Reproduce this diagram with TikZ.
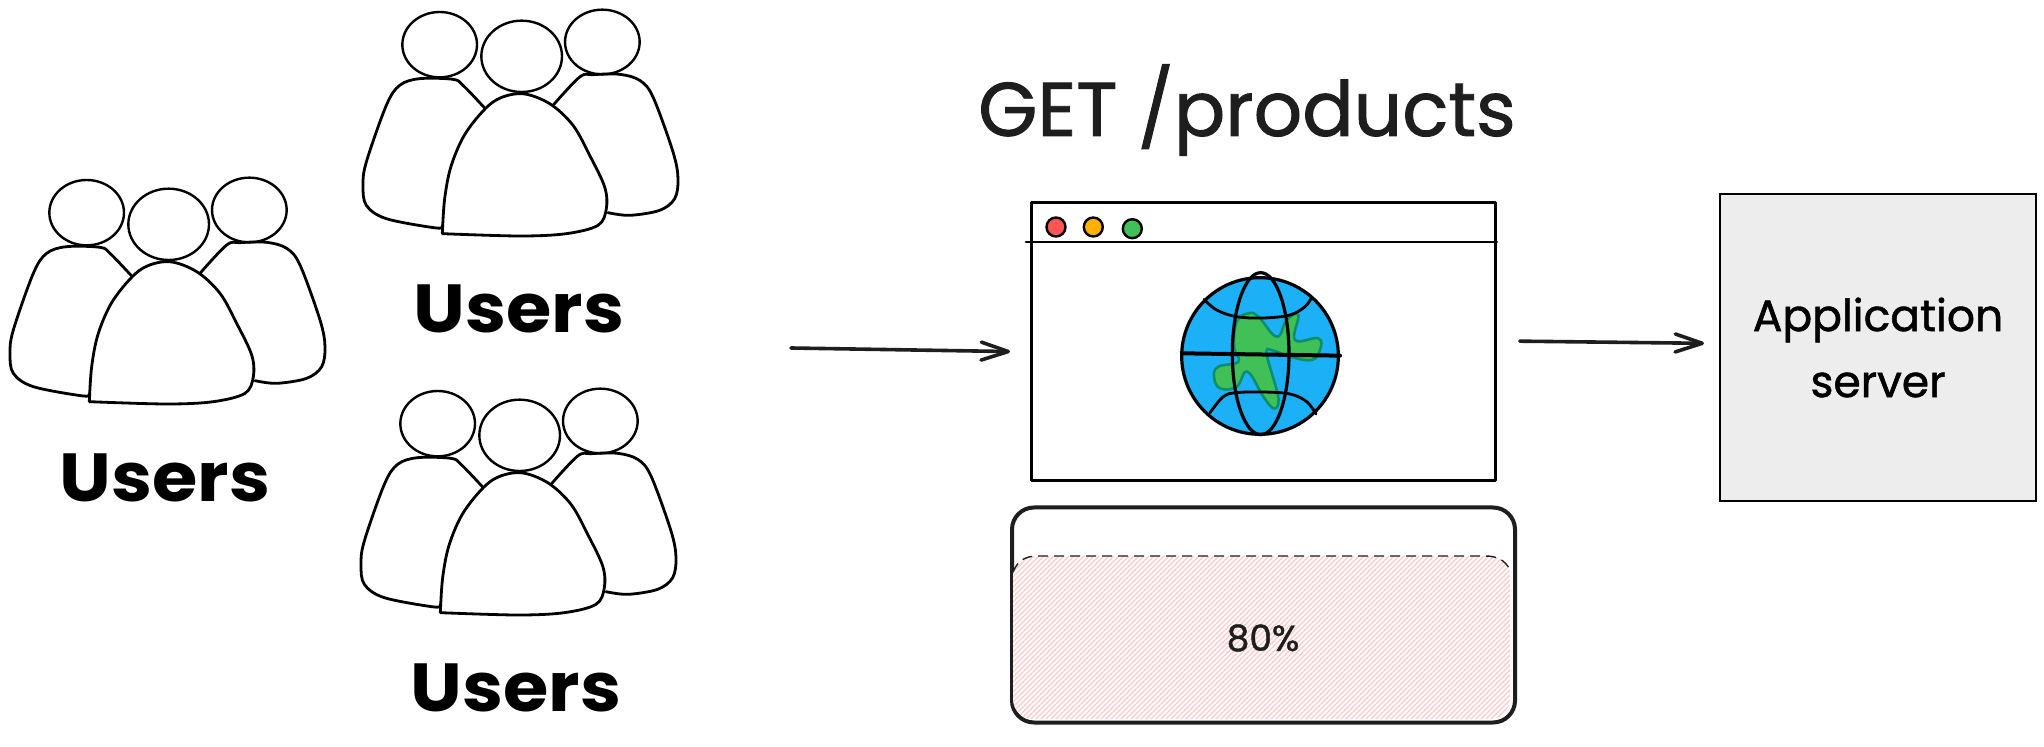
\documentclass[tikz,border=0pt]{standalone}
\usepackage{fontspec}
\usetikzlibrary{arrows.meta,calc}
\setmainfont{Poppins}
\newfontfamily\popfake[FakeBold=1.2]{Poppins}
\definecolor{ink}{HTML}{1E1E1E}
\definecolor{srvfill}{HTML}{EDEDED}
\definecolor{hatch}{HTML}{FFC9C9}
\definecolor{globeblue}{HTML}{1CB0F6}
\definecolor{landgreen}{HTML}{40C057}
\definecolor{landedge}{HTML}{0C8F6C}
\definecolor{dotred}{HTML}{FF5555}
\definecolor{dotamber}{HTML}{FFB000}
\tikzset{
  x=0.5pt,y=-0.5pt,
  sketch/.style={draw=black,line width=1.4pt,line cap=round,line join=round},
  thinsketch/.style={draw=black,line width=1.2pt,line cap=round,line join=round},
  heavy/.style={draw=ink,line width=2pt,line cap=round,line join=round},
  zoomed/.style={x=0.16667pt,y=-0.16667pt},
  userlabel/.style={font=\fontsize{34}{34}\selectfont\bfseries,text=black,inner sep=0pt,xscale=1.08},
  flow/.style={draw=ink,line width=1.8pt,line cap=round,-{Straight Barb[length=13.5pt,width=9pt,line width=1.8pt,round]}},
}
\newcommand{\UsersGroup}[2]{%
  \begin{scope}[shift={(#1,#2)},shift={(0,170)},zoomed]
    \draw[thinsketch] (260,128) ellipse [x radius=112,y radius=98];
    \draw[thinsketch] (748,120) ellipse [x radius=112,y radius=97];
    \draw[thinsketch] (506,163) ellipse [x radius=121,y radius=107];
    \draw[sketch] plot[smooth,tension=0.55] coordinates {(395,318) (330,250) (300,232) (200,230) (140,250) (100,310) (40,480) (30,550) (40,610) (100,650) (250,678) (268,670)};
    \draw[sketch] plot[smooth,tension=0.55] coordinates {(600,310) (680,225) (720,218) (800,217) (860,235) (900,285) (960,450) (975,530) (965,590) (920,625) (830,640) (765,632)};
    \draw[sketch] plot[smooth,tension=0.55] coordinates {(268,695) (275,590) (295,490) (340,390) (420,300) (505,275) (590,305) (660,370) (710,460) (755,555) (760,620) (735,670) (640,695) (500,702) (268,695)};
  \end{scope}}
\begin{document}
\begin{tikzpicture}
\useasboundingbox (0,0) rectangle (2044,747);
\fill[white] (0,0) rectangle (2044,747);

% user groups
\UsersGroup{0}{0}
\UsersGroup{353}{-168}
\UsersGroup{351}{211}
\node[userlabel] (usersA) at (165,478) {Users};
\node[userlabel] (usersB) at (519,309) {Users};
\node[userlabel] (usersC) at (516,688) {Users};

% title
\node[font=\fontsize{38}{38}\popfake,text=ink,inner sep=0pt] (title) at (1247,110) {GET /products};

% browser window
\node[sketch,minimum width=232pt,minimum height=139pt,inner sep=0pt,anchor=north west] (browser) at (1030,201.5) {};
\coordinate (barL) at (1026,242);
\draw[sketch] (barL) -- (browser.east |- barL);
\draw[thinsketch,fill=dotred] (1056,227) circle [radius=9.5];
\draw[thinsketch,fill=dotamber] (1093.3,227) circle [radius=9.5];
\draw[thinsketch,fill=landgreen] (1132.3,228.7) circle [radius=9.5];

% globe
\begin{scope}[shift={(1010,190)},zoomed]
  \fill[globeblue] (750,498) circle [radius=235];
  \draw[draw=landedge,line width=1.3pt,fill=landgreen,line join=round]
    plot[smooth cycle,tension=0.7] coordinates {(680,395) (715,370) (745,380) (800,440) (830,390) (865,375) (855,450) (925,445) (930,480) (905,510) (840,500) (790,482) (770,490) (800,600) (805,640) (790,655) (760,620) (712,545) (680,590) (630,595) (612,560) (625,530) (685,515) (672,470)};
  \draw[sketch,line width=1.6pt] (750,498) circle [radius=235];
  \draw[sketch] plot[smooth,tension=0.6] coordinates {(582,328) (620,360) (680,380) (760,384) (840,375) (885,350) (903,325)};
  \draw[sketch] plot[smooth,tension=0.6] coordinates {(600,668) (640,620) (680,608) (760,606) (840,612) (890,635) (918,672)};
  \draw[sketch,line width=1.6pt] (752,491) ellipse [x radius=85,y radius=243];
  \draw[sketch,line width=2pt] (520,490) -- (990,497);
\end{scope}

% progress bar
\node[heavy,minimum width=251.5pt,minimum height=107.5pt,rounded corners=11pt,inner sep=0pt,anchor=north west] (bar) at (1010,505.5) {};
\begin{scope}
  \clip[rounded corners=10pt] (1013,556) rectangle (1510,719);
  \fill[white] (1013,556) rectangle (1510,719);
  \foreach \i in {800,805,...,1520}{
    \draw[hatch,line width=0.55pt] (\i,730) -- ++(200,-200);
  }
\end{scope}
\draw[draw=ink,line width=0.7pt,dash pattern=on 5pt off 3pt] (1013,572) .. controls (1018,560) and (1026,556) .. (1038,556) -- (1485,556) .. controls (1497,556) and (1505,560) .. (1510,570);
\node[font=\fontsize{18}{18}\popfake,text=ink,inner sep=0pt] (pct) at (1263,638) {80\%};

% server
\node[draw=black,line width=1pt,fill=srvfill,minimum width=158pt,minimum height=153.5pt,inner sep=0pt,anchor=north west,align=center,font=\fontsize{22}{33}\popfake] (server) at (1719,193) {Application\\server};

% arrows
\coordinate (usersOut) at (791,348);
\draw[flow,shorten >=10pt] (usersOut) -- ($(browser.west)+(0,10)$);
\draw[flow,shorten <=11.5pt,shorten >=7.5pt] ($(browser.east)+(0,-1)$) -- ($(server.west)+(0,-4)$);
\end{tikzpicture}
\end{document}
